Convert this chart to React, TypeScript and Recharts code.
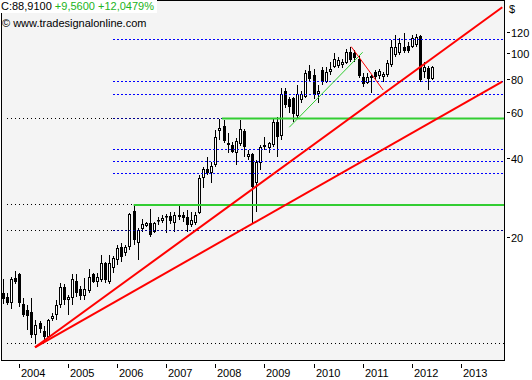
import React from "react";
import { ComposedChart, Bar, XAxis, YAxis, ReferenceLine, CartesianGrid } from "recharts";

// monthly candles, month index counted from Jan 2004
const months = Array.from({ length: 106 }, (_, i) => i - 4);
const open = [
  12.24, 11.82, 11.22, 13.97, 14.46, 11.12, 10.55, 10.37, 8.48, 9.42, 8.78, 8.33, 9.75, 10.1, 11.03, 12.91,
  11.52, 11.72, 13.61, 12.69, 11.93, 12.46, 14.46, 13.49, 13.73, 15.93, 13.49, 15.2, 16.35, 18.32, 17.39, 18.32,
  25.11, 18.98, 21.45, 22.02, 22.61, 20.89, 23.01, 23.01, 23.73, 24.04, 22.61, 24.25, 24.25, 23.83, 22.22, 22.61,
  24.67, 33.53, 36.28, 35.03, 37.57, 50.61, 52.87, 44.77, 44.77, 41.73, 45.16, 50.61, 40.3, 41.37, 32.1, 38.23,
  43.99, 43.61, 44.77, 54.75, 48.44, 71.82, 66.96, 67.56, 57.71, 66.38, 68.15, 85.56, 82.63, 69.96, 86.32, 77.71,
  84.81, 88.63, 89.4, 90.19, 91.78, 101.0, 100.1, 95.05, 81.19, 77.04, 80.48, 84.81, 81.9, 81.19, 82.63, 90.19,
  98.4, 99.9, 105.8, 106.5, 105.8, 107.5, 116.4, 85.1, 87.6, 80.1,
];
const high = [
  13.85, 12.24, 14.09, 14.85, 14.55, 11.72, 11.03, 11.72, 9.67, 9.59, 9.18, 9.75, 10.28, 11.52, 13.37, 13.26,
  12.03, 14.46, 14.46, 13.03, 13.97, 15.11, 14.55, 14.59, 17.09, 16.07, 17.09, 17.0, 18.65, 18.98, 18.65, 24.67,
  26.47, 21.64, 23.41, 22.81, 25.55, 22.85, 23.83, 24.25, 24.46, 24.89, 24.89, 26.24, 24.89, 25.33, 24.89, 24.89,
  34.42, 36.92, 40.3, 38.57, 51.05, 56.3, 55.5, 49.73, 45.96, 47.6, 55.72, 51.5, 42.84, 41.73, 39.25, 44.77,
  48.02, 45.96, 56.21, 57.21, 73.73, 73.73, 68.15, 68.15, 75.69, 71.82, 86.32, 90.19, 87.08, 75.69, 88.63, 88.63,
  92.58, 100.1, 96.69, 95.05, 103.7, 105.9, 102.8, 97.55, 84.08, 84.08, 82.63, 86.32, 87.08, 84.81, 94.22, 112.3,
  117.3, 114.0, 119.6, 110.4, 117.3, 118.3, 117.3, 92.58, 89.4, 89.4,
];
const low = [
  11.12, 11.03, 10.65, 13.26, 10.84, 9.92, 8.86, 8.26, 7.85, 8.63, 7.98, 8.26, 9.59, 9.67, 10.74, 11.03,
  10.1, 11.03, 11.82, 11.52, 11.52, 12.24, 13.37, 12.91, 13.49, 13.37, 13.26, 14.6, 15.65, 16.07, 16.94, 17.85,
  18.6, 16.35, 20.89, 21.83, 20.0, 20.71, 22.22, 22.61, 20.71, 22.41, 20.89, 23.21, 22.81, 20.89, 21.83, 22.22,
  24.46, 30.71, 34.42, 32.1, 36.92, 46.77, 45.56, 41.73, 41.73, 37.57, 44.38, 40.3, 39.25, 22.61, 24.89, 35.96,
  42.84, 41.73, 43.99, 40.3, 46.77, 61.89, 59.24, 54.75, 56.71, 64.66, 67.56, 77.71, 66.96, 64.66, 75.69, 77.04,
  82.63, 87.5, 87.85, 87.85, 91.0, 92.58, 92.58, 80.48, 74.37, 76.34, 70.56, 79.08, 79.78, 77.71, 81.19, 88.8,
  96.7, 98.4, 100.1, 100.1, 104.6, 105.5, 77.71, 80.48, 72.45, 79.08,
];
const close = [
  11.62, 11.22, 13.85, 13.49, 11.22, 10.1, 10.01, 8.48, 9.26, 8.94, 8.33, 9.67, 10.01, 11.03, 12.91, 11.52,
  11.82, 13.85, 12.24, 11.93, 12.69, 14.09, 13.49, 14.09, 15.93, 13.73, 15.93, 16.6, 18.16, 16.79, 18.32, 24.46,
  19.48, 21.26, 22.41, 22.61, 20.35, 22.7, 23.21, 23.62, 23.93, 23.01, 24.25, 23.83, 23.62, 22.22, 23.21, 24.25,
  33.53, 36.28, 35.03, 37.24, 48.02, 51.95, 46.36, 45.56, 42.09, 46.36, 51.5, 43.99, 41.37, 30.99, 38.57, 43.99,
  44.77, 45.56, 54.75, 48.02, 69.96, 63.54, 62.44, 58.72, 69.96, 69.96, 84.08, 79.78, 69.34, 71.82, 77.71, 84.81,
  87.08, 95.05, 94.22, 92.58, 101.0, 94.22, 95.89, 81.9, 76.34, 81.19, 81.9, 81.19, 85.56, 83.35, 91.55, 105.8,
  105.8, 109.1, 102.2, 102.2, 114.0, 115.0, 79.5, 88.8, 79.35, 88.91,
];

const yearTicks = [0, 12, 24, 36, 48, 60, 72, 84, 96, 108];
const priceTicks = [20, 40, 60, 80, 100, 120];

// horizontal levels: [price, from month, to month]
const blackDotted = [
  [7.85, -3, 118.6],
  [21.08, -3, 23],
  [26.47, -3, 28],
  [56.45, -3, 23],
];
const blueDotted = [
  [34.72, 23, 118.6],
  [38.57, 23, 118.6],
  [42.84, 23, 118.6],
  [69.35, 23, 118.6],
  [77.7, 23, 118.6],
  [112.3, 23, 118.6],
];
const navyDotted = [
  [21.08, 23, 118.6],
  [56.45, 23, 49.6],
];
const greenLevels = [
  [26.47, 28, 118.6],
  [56.45, 49.6, 118.6],
];
// trend lines: [month1, price1, month2, price2]
const redTrends = [
  [3.89, 7.61, 118.14, 149.5],
  [3.89, 7.61, 118.14, 77.9],
];
const redThin = [[81.2, 105.9, 89.0, 72.45]];
const greenThin = [[66.06, 52.27, 84.0, 100.8]];

const data = months.map((m, i) => ({
  m,
  wick: [low[i], high[i]],
  body: [Math.min(open[i], close[i]), Math.max(open[i], close[i])],
  up: close[i] >= open[i],
}));

const last = close[close.length - 1];
const prev = close[close.length - 2];
const fmt = (v: number) => v.toFixed(4).replace(".", ",");
const chg = last - prev;
const pct = (chg / prev) * 100;

const FONT = '"Liberation Sans", Arial, sans-serif';
const X_DOMAIN: [number, number] = [-4.18, 118.56];

function Wick(p: any) {
  const c = Math.floor(p.x + p.width / 2);
  const top = Math.round(Math.min(p.y, p.y + p.height));
  const h = Math.max(1, Math.round(Math.abs(p.height)));
  return <rect x={c} y={top} width={1} height={h} fill="#000" />;
}

function Body(p: any) {
  const c = Math.floor(p.x + p.width / 2);
  const top = Math.round(Math.min(p.y, p.y + p.height));
  const h = Math.max(1, Math.round(Math.abs(p.height)));
  const up = p.payload.up;
  return (
    <rect
      x={c - 0.5}
      y={top + 0.5}
      width={2}
      height={Math.max(h - 1, 0.5)}
      fill={up ? "#fff" : "#000"}
      stroke="#000"
      strokeWidth={1}
    />
  );
}

function YearTick(p: any) {
  const px = Math.round(p.x) + 0.5;
  return (
    <g>
      <line x1={px} x2={px} y1={p.y + 4} y2={p.y + 8} stroke="#000" />
      <text x={px + 1.5} y={p.y + 17} fontSize={11} fontFamily={FONT} fill="#000">
        {2004 + p.payload.value / 12}
      </text>
    </g>
  );
}

function PriceTick(p: any) {
  const py = Math.round(p.y) + 0.5;
  return (
    <g>
      <line x1={p.x + 3} x2={p.x + 6} y1={py} y2={py} stroke="#000" />
      <text x={p.x + 7} y={py + 4} fontSize={11} fontFamily={FONT} fill="#000">
        {p.payload.value}
      </text>
    </g>
  );
}

export default function App() {
  return (
    <div style={{ position: "absolute", left: 0, top: 0, width: 532, height: 380, background: "#fff" }}>
      <ComposedChart
        width={532}
        height={380}
        data={data}
        margin={{ top: 1, right: 0, bottom: 0, left: 2 }}
      >
        <CartesianGrid horizontal={false} vertical={false} fill="#f4f4f4" />
        <XAxis
          xAxisId={0}
          type="number"
          dataKey="m"
          domain={X_DOMAIN}
          allowDataOverflow
          ticks={yearTicks}
          interval={0}
          tick={<YearTick />}
          tickLine={false}
          axisLine={false}
          tickSize={0}
          tickMargin={0}
          height={20}
        />
        <XAxis xAxisId="b" type="number" dataKey="m" domain={X_DOMAIN} allowDataOverflow hide />
        <YAxis
          orientation="right"
          type="number"
          scale="log"
          domain={[6.81, 157.9]}
          allowDataOverflow
          ticks={priceTicks}
          interval={0}
          tick={<PriceTick />}
          tickLine={false}
          axisLine={false}
          tickSize={0}
          tickMargin={0}
          width={28}
        />
        {blackDotted.map(([v, a, b], i) => (
          <ReferenceLine key={"k" + i} segment={[{ x: a, y: v }, { x: b, y: v }]} stroke="#000" strokeDasharray="1 3" shapeRendering="crispEdges" ifOverflow="visible" />
        ))}
        {blueDotted.map(([v, a, b], i) => (
          <ReferenceLine key={"b" + i} segment={[{ x: a, y: v }, { x: b, y: v }]} stroke="#0000ff" strokeDasharray="2 2" shapeRendering="crispEdges" ifOverflow="visible" />
        ))}
        {navyDotted.map(([v, a, b], i) => (
          <ReferenceLine key={"n" + i} segment={[{ x: a, y: v }, { x: b, y: v }]} stroke="#00008b" strokeDasharray="2 2" shapeRendering="crispEdges" ifOverflow="visible" />
        ))}
        <Bar xAxisId={0} dataKey="wick" barSize={1} shape={<Wick />} isAnimationActive={false} />
        <Bar xAxisId="b" dataKey="body" barSize={3} shape={<Body />} isAnimationActive={false} />
        {greenLevels.map(([v, a, b], i) => (
          <ReferenceLine key={"g" + i} segment={[{ x: a, y: v }, { x: b, y: v }]} stroke="#32cd32" strokeWidth={2} ifOverflow="visible" />
        ))}
        {greenThin.map(([a, va, b, vb], i) => (
          <ReferenceLine key={"gt" + i} segment={[{ x: a, y: va }, { x: b, y: vb }]} stroke="#32cd32" strokeWidth={1} ifOverflow="visible" />
        ))}
        {redThin.map(([a, va, b, vb], i) => (
          <ReferenceLine key={"rt" + i} segment={[{ x: a, y: va }, { x: b, y: vb }]} stroke="#ff0000" strokeWidth={1} ifOverflow="visible" />
        ))}
        {redTrends.map(([a, va, b, vb], i) => (
          <ReferenceLine key={"r" + i} segment={[{ x: a, y: va }, { x: b, y: vb }]} stroke="#ff0000" strokeWidth={2} ifOverflow="visible" />
        ))}
      </ComposedChart>
      <div
        style={{
          position: "absolute",
          left: 1,
          top: 0,
          width: 504,
          height: 361,
          border: "1px solid #000",
          boxSizing: "border-box",
          pointerEvents: "none",
        }}
      />
      <div
        style={{
          position: "absolute",
          left: 0,
          top: 0,
          height: 13,
          padding: "0 3px 0 1px",
          background: "#fff",
          font: `11px ${FONT}`,
          lineHeight: "13px",
          whiteSpace: "nowrap",
        }}
      >
        <span style={{ color: "#000" }}>C:{fmt(last)}</span>{" "}
        <span style={{ color: "#22b422" }}>
          +{fmt(chg)} +{fmt(pct)}%
        </span>
      </div>
      <div style={{ position: "absolute", left: 2, top: 17, font: `11px ${FONT}`, color: "#000", whiteSpace: "nowrap" }}>
        © www.tradesignalonline.com
      </div>
      <div style={{ position: "absolute", left: 509, top: 3, font: `11px ${FONT}`, color: "#000" }}>$</div>
    </div>
  );
}
